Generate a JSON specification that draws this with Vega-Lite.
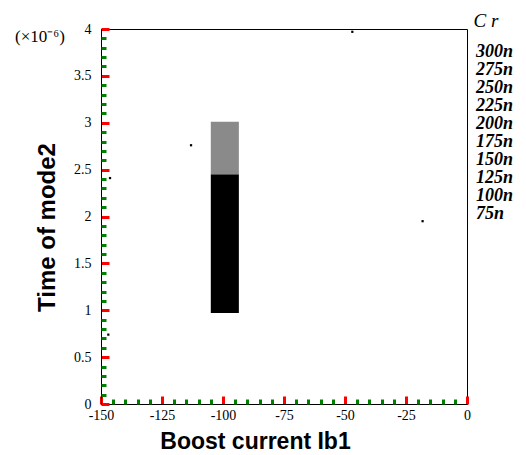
{
  "$schema": "https://vega.github.io/schema/vega-lite/v6.json",
  "width": 366,
  "height": 375,
  "autosize": {"type": "none"},
  "padding": {"left": 101, "top": 29, "right": 59, "bottom": 51},
  "background": "white",
  "config": {
    "view": {"stroke": "black", "strokeWidth": 1},
    "axis": {"grid": false, "domainColor": "black", "labelColor": "black", "titleColor": "black", "labelFont": "Liberation Serif", "labelFontSize": 14, "labelFlush": false, "labelOverlap": false}
  },
  "resolve": {"axis": {"x": "independent", "y": "independent"}},
  "datasets": {
    "curves": [
      {"Cr":"300n","x":-146.3,"y":2.41},{"Cr":"300n","x":-113.1,"y":2.76},{"Cr":"300n","x":-47.0,"y":3.97},
      {"Cr":"75n","x":-147.0,"y":0.74},{"Cr":"75n","x":-18.2,"y":1.95}
    ],
    "bars": [
      {"part":"solid","x":-105,"x2":-93.5,"y":0.97,"y2":2.45},
      {"part":"stipple","x":-105,"x2":-93.5,"y":2.45,"y2":3.01}
    ]
  },
  "layer": [
    {
      "data": {"name": "curves"},
      "mark": {"type": "point", "shape": "square", "filled": true, "size": 5, "opacity": 1},
      "encoding": {
        "x": {
          "field": "x", "type": "quantitative",
          "scale": {"domain": [-150, 0], "nice": false, "zero": false},
          "axis": {
            "orient": "bottom",
            "title": "Boost current Ib1",
            "titleFont": "Liberation Sans", "titleFontSize": 23, "titleFontWeight": "bold",
            "titleX": 154, "titleY": 37, "titleAlign": "center", "titleBaseline": "middle",
            "values": [-150,-125,-100,-75,-50,-25,0],
            "labelExpr": "'' + datum.value",
            "ticks": true, "tickSize": -8, "tickColor": "red", "tickWidth": 3,
            "labelPadding": 12
          }
        },
        "y": {
          "field": "y", "type": "quantitative",
          "scale": {"domain": [0, 4], "nice": false, "zero": false},
          "axis": {
            "orient": "left",
            "title": "Time of mode2",
            "titleFont": "Liberation Sans", "titleFontSize": 24, "titleFontWeight": "bold",
            "titleAngle": 270, "titleX": -54, "titleY": 198, "titleAlign": "center", "titleBaseline": "middle",
            "values": [0,0.5,1,1.5,2,2.5,3,3.5,4],
            "labelExpr": "'' + datum.value",
            "ticks": true, "tickSize": -8, "tickColor": "red", "tickWidth": 3,
            "labelPadding": 18
          }
        },
        "color": {
          "field": "Cr", "type": "nominal",
          "scale": {"domain": ["300n","275n","250n","225n","200n","175n","150n","125n","100n","75n"], "range": ["black","black","black","black","black","black","black","black","black","black"]},
          "legend": {
            "orient": "none", "legendX": 357, "legendY": -17,
            "title": "C r", "titleAnchor": "middle", "titleFont": "Liberation Serif", "titleFontStyle": "italic", "titleFontWeight": "normal", "titleFontSize": 19, "titleColor": "black", "titlePadding": 12,
            "labelFont": "Liberation Serif", "labelFontStyle": "italic", "labelFontWeight": "bold", "labelFontSize": 18, "labelColor": "black",
            "symbolSize": 0, "symbolOpacity": 0, "symbolStrokeWidth": 0, "labelOffset": 0, "rowPadding": -0.7
          }
        }
      }
    },
    {
      "data": {"name": "bars"},
      "mark": {"type": "rect"},
      "encoding": {
        "x": {
          "field": "x", "type": "quantitative",
          "axis": {
            "orient": "top", "offset": -375, "title": null, "labels": false, "domain": false,
            "ticks": true, "tickColor": "green", "tickWidth": 3, "tickSize": 5,
            "values": [-145,-140,-135,-130,-120,-115,-110,-105,-95,-90,-85,-80,-70,-65,-60,-55,-45,-40,-35,-30,-20,-15,-10,-5]
          }
        },
        "x2": {"field": "x2"},
        "y": {
          "field": "y", "type": "quantitative",
          "axis": {
            "orient": "right", "offset": -366, "title": null, "labels": false, "domain": false,
            "ticks": true, "tickColor": "green", "tickWidth": 3, "tickSize": 5,
            "values": [0.1,0.2,0.3,0.4,0.6,0.7,0.8,0.9,1.1,1.2,1.3,1.4,1.6,1.7,1.8,1.9,2.1,2.2,2.3,2.4,2.6,2.7,2.8,2.9,3.1,3.2,3.3,3.4,3.6,3.7,3.8,3.9]
          }
        },
        "y2": {"field": "y2"},
        "fill": {"field": "part", "type": "nominal", "scale": {"domain": ["solid","stipple"], "range": ["black","#8a8a8a"]}, "legend": null}
      }
    },
    {
      "data": {"values": [{"t": "(×10⁻⁶)", "x": -175, "y": 3.915}]},
      "mark": {"type": "text", "font": "Liberation Serif", "fontSize": 17, "color": "black", "align": "center", "baseline": "middle"},
      "encoding": {"text": {"field": "t"}, "x": {"field": "x", "type": "quantitative", "axis": null}, "y": {"field": "y", "type": "quantitative", "axis": null}}
    }
  ]
}
